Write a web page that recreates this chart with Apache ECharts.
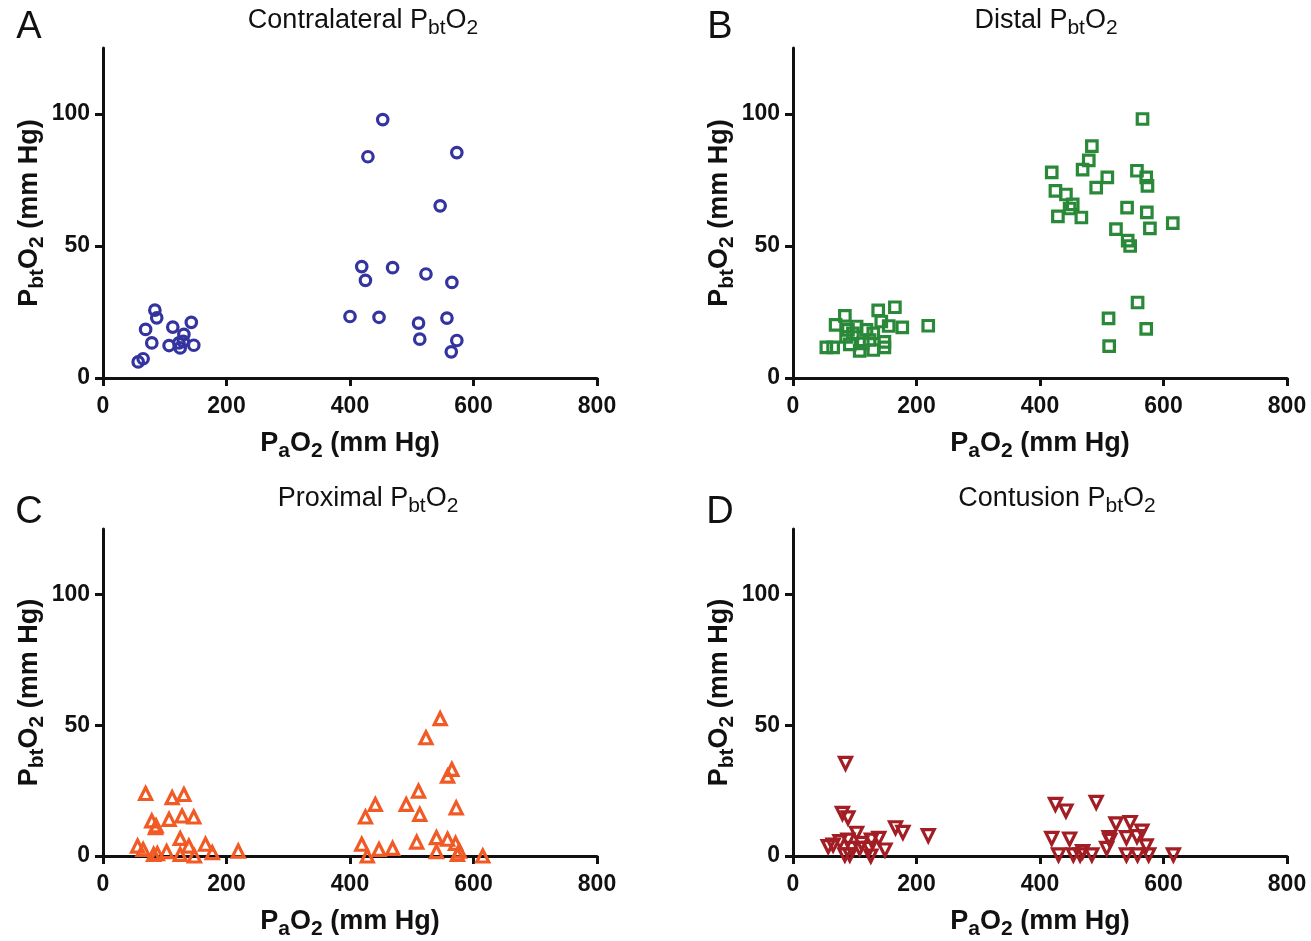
<!DOCTYPE html>
<html>
<head>
<meta charset="utf-8">
<script src="https://cdn.jsdelivr.net/npm/echarts@6/dist/echarts.min.js"></script>
<style>html,body{margin:0;padding:0;background:#fff;}#main{width:1311px;height:941px;}</style>
</head>
<body>
<div id="main"></div>
<script>
// ---- Data (PaO2 x, PbtO2 y) ----
const contraX = [453,429,573,546,419,469,425,523,565,400,447,511,557,513,573,564,84,87,69,113,143,131,79,107,125,130,147,57,65,123];
const contraY = [97.9,83.8,85.4,65.2,42.2,41.8,37.0,39.4,36.2,23.3,23.0,20.8,22.7,14.7,14.2,9.9,25.7,22.8,18.4,19.3,21.1,16.5,13.3,12.3,11.4,13.9,12.4,6.1,7.3,13.3];

const distalX = [566,484,479,469,419,509,557,572,574,491,425,442,453,448,429,467,541,573,615,578,523,542,546,558,511,572,512,219,177,165,138,155,143,84,69,103,89,119,130,148,148,108,130,92,54,65,86,124,113,97];
const distalY = [98.1,87.8,82.4,78.9,77.9,76.0,78.5,76.0,72.8,72.1,70.9,69.5,65.8,64.2,61.2,60.8,64.5,62.7,58.7,56.7,56.4,52.0,50.0,28.6,22.6,18.6,12.1,19.8,19.2,26.8,25.6,19.7,21.4,23.5,20.1,19.5,18.2,18.2,16.9,13.7,11.6,10.3,10.6,12.7,11.6,11.6,15.6,14.4,13.1,16.9];

const proxX = [546,523,565,558,511,491,441,425,513,572,508,540,558,571,419,447,469,428,540,574,577,615,69,112,131,79,85,107,128,147,125,56,65,88,82,103,139,125,148,166,177,219,86];
const proxY = [52.5,45.2,33.1,30.5,24.8,19.7,19.7,14.9,15.9,18.4,5.3,7.0,6.4,4.8,4.5,2.5,2.9,0,1.7,0.6,1.9,0,23.9,22.3,23.5,13.4,10.8,14.0,15.3,14.9,6.7,3.8,2.5,0.9,0.6,1.7,3.8,0.6,0,4.5,1.3,1.9,11.5];

const contuX = [85,80,89,103,166,178,219,57,65,76,89,111,127,139,149,124,108,92,126,95,84,425,442,491,523,546,565,557,512,540,419,448,508,572,430,454,469,484,540,558,576,616,465,513];
const contuY = [35.4,16.3,14.6,8.7,10.8,9.0,7.8,3.6,4.2,5.5,6.1,4.8,6.1,6.7,2.3,2.9,2.9,0.4,0,2.9,0.4,19.7,17.2,20.5,12.3,12.8,9.5,7.4,7.0,7.0,6.7,6.5,2.9,3.9,0.4,0.4,1.7,0.4,0.4,0.4,0.4,0.4,0.4,6.0];

const xTicks = [0, 200, 400, 600, 800];
const yTicks = [0, 50, 100];
const panelLetters = ['A', 'B', 'C', 'D'];
const panelNames = ['Contralateral', 'Distal', 'Proximal', 'Contusion'];

// ---- Chart ----
const FONT = "'Liberation Sans', Arial, Helvetica, sans-serif";
const chart = echarts.init(document.getElementById('main'), null, {renderer: 'canvas'});

const grids = [
  {left: 103, top: 48, width: 494, height: 330},
  {left: 793, top: 48, width: 494, height: 330},
  {left: 103, top: 529, width: 494, height: 329},
  {left: 793, top: 529, width: 494, height: 329}
];

const nameRich = {
  m: {fontSize: 27, fontWeight: 'bold', fontFamily: FONT, color: '#111', lineHeight: 36, verticalAlign: 'middle'},
  s: {fontSize: 21, fontWeight: 'bold', fontFamily: FONT, color: '#111', lineHeight: 17, verticalAlign: 'bottom'}
};
const titleRich = {
  m: {fontSize: 27, fontFamily: FONT, fill: '#111', lineHeight: 36, verticalAlign: 'middle'},
  s: {fontSize: 21, fontFamily: FONT, fill: '#111', lineHeight: 18, verticalAlign: 'bottom'}
};

const axisCommon = {
  axisLine: {show: true, onZero: false, lineStyle: {color: '#111', width: 3}},
  axisTick: {show: true, length: 8, lineStyle: {color: '#111', width: 3}},
  splitLine: {show: false},
  axisLabel: {color: '#111', fontSize: 23, fontWeight: 'bold', fontFamily: FONT}
};

const xAxes = grids.map((g, i) => ({
  type: 'value', gridIndex: i, min: xTicks[0], max: xTicks[xTicks.length - 1], interval: 200,
  axisLine: axisCommon.axisLine, axisTick: axisCommon.axisTick, splitLine: axisCommon.splitLine,
  axisLabel: Object.assign({}, axisCommon.axisLabel, {margin: 17}),
  name: '{m|P}{s|a}{m|O}{s|2}{m| (mm Hg)}',
  nameLocation: 'middle', nameGap: 48,
  nameTextStyle: {rich: nameRich}
}));

const yAxes = grids.map((g, i) => ({
  type: 'value', gridIndex: i, min: 0, max: 125, interval: 50,
  axisLine: axisCommon.axisLine,
  axisTick: Object.assign({}, axisCommon.axisTick, {customValues: yTicks}),
  splitLine: axisCommon.splitLine,
  axisLabel: Object.assign({}, axisCommon.axisLabel, {margin: 13, customValues: yTicks}),
  name: '{m|P}{s|bt}{m|O}{s|2}{m| (mm Hg)}',
  nameLocation: 'middle', nameGap: 54, nameRotate: 90,
  nameTextStyle: {rich: nameRich}
}));

function zip(xs, ys) { return xs.map((x, k) => [x, ys[k]]); }

const seriesDefs = [
  {xs: contraX, ys: contraY, color: '#3434a0', symbol: 'circle', size: 10.5, rot: 0},
  {xs: distalX, ys: distalY, color: '#2a8939', symbol: 'rect', size: 10.5, rot: 0},
  {xs: proxX, ys: proxY, color: '#f15a24', symbol: 'triangle', size: 12, rot: 0},
  {xs: contuX, ys: contuY, color: '#a31e24', symbol: 'triangle', size: 12, rot: 180}
];

const series = seriesDefs.map((d, i) => ({
  type: 'scatter', xAxisIndex: i, yAxisIndex: i,
  data: zip(d.xs, d.ys),
  symbol: d.symbol, symbolSize: d.size, symbolRotate: d.rot,
  itemStyle: {color: 'rgba(255,255,255,0)', borderColor: d.color, borderWidth: 3.2, opacity: 1},
  emphasis: {disabled: true},
  silent: true, z: 5
}));

const titleCenters = [[363, 21], [1046, 21], [368, 499], [1057, 499]];
const letterPos = [[29, 28], [720, 28], [29, 513], [720, 513]];

const graphics = [];
panelNames.forEach((n, i) => {
  graphics.push({
    type: 'text', x: titleCenters[i][0], y: titleCenters[i][1],
    style: {text: '{m|' + n + ' P}{s|bt}{m|O}{s|2}', rich: titleRich, align: 'center', verticalAlign: 'middle', fill: '#111'}
  });
  graphics.push({
    type: 'text', x: letterPos[i][0], y: letterPos[i][1],
    style: {text: panelLetters[i], fontSize: 38, fontFamily: FONT, fill: '#111', align: 'center', verticalAlign: 'middle'}
  });
});

chart.setOption({
  backgroundColor: '#ffffff',
  animation: false,
  grid: grids,
  xAxis: xAxes,
  yAxis: yAxes,
  series: series,
  graphic: graphics
});
</script>
</body>
</html>
